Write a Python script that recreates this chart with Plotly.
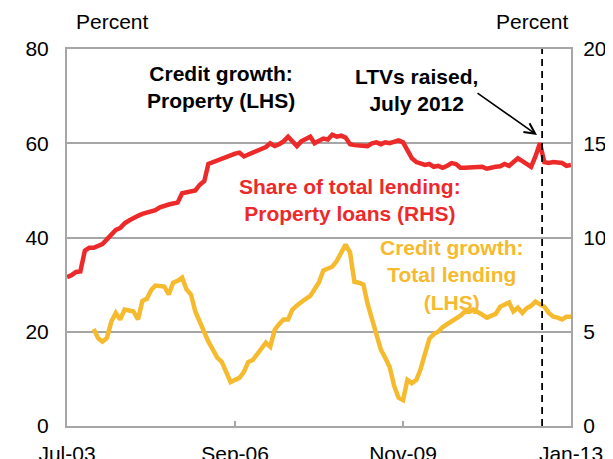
import pandas as pd
import plotly.graph_objects as go

# Monthly data, Jul-2003 .. Jan-2013
start_month = "2003-07-01"
n_months = 115

# Share of total lending: property loans (RHS, %)
property_share = [
    7.9, 8.0, 8.17, 8.2, 9.3, 9.45, 9.45, 9.55, 9.65, 9.9,
    10.15, 10.4, 10.5, 10.75, 10.9, 11.05, 11.15, 11.25, 11.3, 11.4,
    11.45, 11.6, 11.7, 11.75, 11.8, 11.85, 12.35, 12.4, 12.4, 12.5,
    12.8, 13.0, 13.9, 14.0, 14.1, 14.2, 14.25, 14.35, 14.45, 14.5,
    14.3, 14.4, 14.5, 14.55, 14.7, 14.8, 15.0, 14.85, 14.95, 15.1,
    15.35, 15.1, 14.85, 15.1, 15.2, 15.35, 15.0, 15.15, 15.25, 15.2,
    15.45, 15.35, 15.4, 15.3, 14.95, 14.9, 14.9, 14.85, 14.85, 15.0,
    15.05, 14.95, 15.05, 15.0, 15.1, 15.15, 15.05, 14.6, 14.2, 14.0,
    13.9, 13.85, 13.9, 13.75, 13.8, 13.7, 13.8, 13.95, 13.9, 13.7,
    13.7, 13.7, 13.72, 13.7, 13.75, 13.65, 13.72, 13.75, 13.78, 13.9,
    13.8, 14.0, 14.2, 14.05, 13.9, 13.75, 14.3, 15.0, 14.0, 13.95,
    14.0, 13.95, 13.95, 13.8, 13.85,
]

# Credit growth: total lending (LHS, %), starts Jan-2004
total_growth = [None] * 6 + [
    20.6, 18.6, 17.9, 18.7, 22.1, 24.0, 22.6, 24.7, 24.5, 24.3,
    22.6, 26.5, 27.0, 28.9, 29.8, 29.7, 29.6, 27.9, 30.4, 30.8,
    31.5, 29.0, 27.9, 24.3, 22.0, 19.8, 17.9, 16.2, 14.5, 13.6,
    11.4, 9.3, 9.8, 10.2, 11.5, 13.6, 14.0, 15.2, 16.5, 17.7,
    16.8, 20.4, 21.6, 22.6, 22.6, 24.7, 25.6, 26.4, 27.0, 27.6,
    28.9, 30.5, 33.0, 33.4, 33.8, 35.0, 37.0, 38.5, 36.8, 30.6,
    30.4, 30.0, 26.0, 22.5, 19.0, 16.2, 14.5, 12.5, 8.5, 6.0,
    5.5, 9.8, 9.1, 9.8, 12.0, 15.1, 18.5, 19.5, 20.0, 21.0,
    21.6, 22.1, 22.8, 23.4, 24.3, 24.2, 24.7, 24.0, 23.6, 23.0,
    23.4, 23.8, 25.3, 25.8, 26.2, 24.3, 25.1, 24.0, 25.0, 25.5,
    26.4, 25.8, 25.3, 24.0, 23.2, 23.0, 22.6, 23.2, 23.2,
]

tick_dates = ["2003-07-01", "2006-09-01", "2009-11-01", "2013-01-01"]
tick_labels = ["Jul-03", "Sep-06", "Nov-09", "Jan-13"]
ltv_date = "2012-06-16"

dates = pd.date_range(start_month, periods=n_months, freq="MS")

RED = "#ED2A2A"
GOLD = "#F6BA2E"
GRID = "#A6A6A6"
FONT = "Arial, Liberation Sans, sans-serif"
FS = 21

fig = go.Figure()
fig.add_trace(go.Scatter(x=dates, y=total_growth, mode="lines",
                         line=dict(color=GOLD, width=4.5), yaxis="y",
                         showlegend=False, connectgaps=False))
fig.add_trace(go.Scatter(x=dates, y=property_share, mode="lines",
                         line=dict(color=RED, width=4.5), yaxis="y2",
                         showlegend=False))

fig.add_vline(x=pd.Timestamp(ltv_date), line=dict(color="black", width=1.8, dash="7px,5px"))

# page has an 8px body margin, so the figure is drawn 8px smaller
fig.update_layout(
    width=605, height=451,
    margin=dict(l=59, r=42, t=41, b=33),
    paper_bgcolor="white", plot_bgcolor="white",
    font=dict(family=FONT, size=FS, color="black"),
    xaxis=dict(
        range=[pd.Timestamp("2003-07-01"), pd.Timestamp("2013-01-01")],
        tickvals=pd.to_datetime(tick_dates), ticktext=tick_labels,
        ticks="inside", ticklen=5, tickcolor=GRID, tickwidth=1.5,
        showgrid=False, showline=True, linecolor=GRID, linewidth=2, mirror=True,
        tickfont=dict(size=FS), zeroline=False, automargin=False,
        ticklabelstandoff=8,
    ),
    yaxis=dict(
        range=[0, 80], tickvals=[0, 20, 40, 60, 80], showgrid=True,
        gridcolor=GRID, gridwidth=1.5, showline=True, linecolor=GRID,
        linewidth=2, mirror=True, zeroline=False, ticks="",
        tickfont=dict(size=FS), ticklabelstandoff=12, automargin=False,
    ),
    yaxis2=dict(
        range=[0, 20], tickvals=[0, 5, 10, 15, 20], overlaying="y",
        side="right", showgrid=False, zeroline=False,
        ticks="outside", ticklen=3, tickcolor="rgba(0,0,0,0)",
        tickfont=dict(size=FS), ticklabelstandoff=4, automargin=False,
    ),
)

def ptx(px):
    return (px - 67) / 504

def pty(py):
    return (426 - py) / 377

annos = [
    dict(text="Percent", x=ptx(112), y=pty(22), color="black", bold=False),
    dict(text="Percent", x=ptx(532), y=pty(22), color="black", bold=False),
    dict(text="Credit growth:<br>Property (LHS)", x=ptx(221), y=pty(87), color="black", bold=True),
    dict(text="LTVs raised,<br>July 2012", x=ptx(416), y=pty(90), color="black", bold=True),
    dict(text="Share of total lending:<br>Property loans (RHS)", x=ptx(350), y=pty(200), color=RED, bold=True),
    dict(text="Credit growth:<br>Total lending<br>(LHS)", x=ptx(451), y=pty(275), color=GOLD, bold=True),
]
for a in annos:
    txt = f"<b>{a['text']}</b>" if a["bold"] else a["text"]
    fig.add_annotation(text=txt, xref="paper", yref="paper", x=a["x"], y=a["y"],
                       showarrow=False, xanchor="center", yanchor="middle",
                       font=dict(size=FS, color=a["color"], family=FONT),
                       align="center")

fig.add_annotation(text="", xref="paper", yref="paper", x=ptx(537), y=pty(135),
                   ax=-61, ay=-43, showarrow=True, arrowhead=5, arrowsize=1.3,
                   arrowwidth=1.6, arrowcolor="black")

fig.write_html("out.html")
